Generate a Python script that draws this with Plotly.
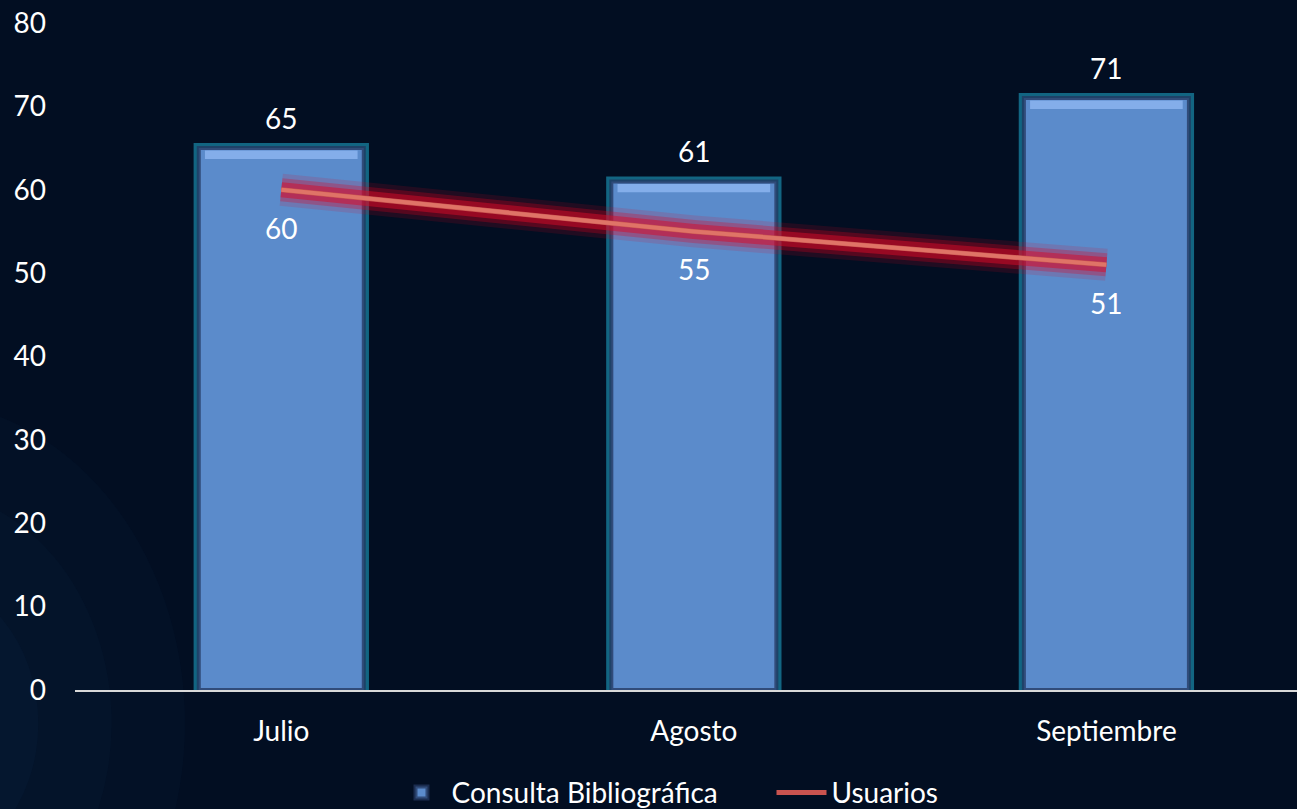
import plotly.graph_objects as go

months = ["Julio", "Agosto", "Septiembre"]
consultas = [65, 61, 71]
usuarios = [60, 55, 51]
y_ticks = [0, 10, 20, 30, 40, 50, 60, 70, 80]

FONT = "Lato, 'Open Sans', sans-serif"
FS = 28
BG = "#020e22"

fig = go.Figure()

# teal glow behind bars
fig.add_trace(go.Bar(
    x=months, y=[v + 0.6 for v in consultas], width=0.425, showlegend=False,
    marker=dict(color="rgba(30,160,195,0.6)", line=dict(width=0)), hoverinfo="skip",
))
# main bars
fig.add_trace(go.Bar(
    x=months, y=consultas, name="Consulta Bibliográfica", width=0.40,
    marker=dict(color="#5b8bcb", line=dict(color="rgba(35,55,95,0.75)", width=4)),
))
# light bevel strip on bar tops
fig.add_trace(go.Bar(
    x=months, y=[1.0] * len(consultas), base=[v - 1.3 for v in consultas], width=0.37,
    showlegend=False, marker=dict(color="#84aeea", line=dict(width=0)), hoverinfo="skip",
))

# glow layers for the line
for w, c in [(32, "rgba(225,0,30,0.14)"), (23, "rgba(225,0,30,0.28)"), (15, "rgba(215,10,40,0.5)")]:
    fig.add_trace(go.Scatter(x=months, y=usuarios, mode="lines", showlegend=False,
                             line=dict(color=c, width=w), hoverinfo="skip"))
fig.add_trace(go.Scatter(x=months, y=usuarios, mode="lines", name="Usuarios",
                         line=dict(color="#c9534f", width=5)))
fig.add_trace(go.Scatter(x=months, y=usuarios, mode="lines", showlegend=False,
                         line=dict(color="rgba(225,120,105,0.9)", width=4), hoverinfo="skip"))

annotations = []
for m, v in zip(months, consultas):
    annotations.append(dict(x=m, y=v, text=str(v), showarrow=False, yshift=30,
                            font=dict(color="white", size=FS, family=FONT)))
for m, v in zip(months, usuarios):
    annotations.append(dict(x=m, y=v, text=str(v), showarrow=False, yshift=-38,
                            font=dict(color="white", size=FS, family=FONT)))

# subtle lighter haze along the lower-left edge of the background
shapes = []
for r, a in [(0.22, 0.035), (0.16, 0.04), (0.1, 0.045)]:
    shapes.append(dict(type="circle", xref="paper", yref="paper", layer="below",
                       x0=-0.13 - r, x1=-0.13 + r, y0=-0.05 - r * 2.2, y1=-0.05 + r * 2.2,
                       fillcolor=f"rgba(50,100,160,{a})", line=dict(width=0)))

fig.update_layout(
    width=1297, height=809,
    margin=dict(l=75, r=0, t=23, b=119, autoexpand=False),
    paper_bgcolor=BG, plot_bgcolor="rgba(0,0,0,0)",
    barmode="overlay",
    font=dict(family=FONT, color="white", size=FS),
    annotations=annotations,
    shapes=shapes,
    legend=dict(orientation="h", x=0.259, xanchor="left", y=-0.154, yanchor="middle",
                font=dict(size=FS, color="white", family=FONT), bgcolor="rgba(0,0,0,0)",
                entrywidth=315, entrywidthmode="pixels", itemwidth=50),
    xaxis=dict(range=[-0.5, 2.462], showgrid=False, showline=True, linecolor="#d9d9d9",
               linewidth=2, ticks="", ticklabelstandoff=15, automargin=False,
               tickfont=dict(size=FS, color="white"), zeroline=False),
    yaxis=dict(range=[0, 80], tickvals=y_ticks, showgrid=False, zeroline=False,
               showline=False, ticks="", ticklabelstandoff=28, automargin=False,
               tickfont=dict(size=FS, color="white")),
)

fig.write_html("out.html", config={"displayModeBar": False},
               post_script="document.body.style.margin='0';document.body.style.background='#020e22';")
